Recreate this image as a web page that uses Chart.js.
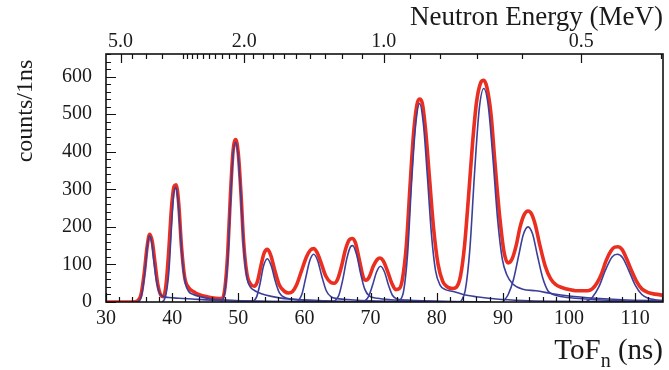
<!DOCTYPE html>
<html>
<head>
<meta charset="utf-8">
<script src="https://cdn.jsdelivr.net/npm/chart.js@4.4.0/dist/chart.umd.min.js"></script>
<style>
  html, body { margin: 0; padding: 0; background: #fff; }
  #c { display: block; }
</style>
</head>
<body>
<canvas id="c" width="669" height="370"></canvas>
<script>
// total fit (red), [ToF ns, counts/1ns]
const totalFit = [
  [30,0],[34,0],[34.8,3],[35.3,20],[35.8,80],[36.2,145],[36.6,180],[37.0,160],[37.4,105],[37.8,50],
  [38.3,18],[38.7,14],[39.1,50],[39.5,140],[39.9,250],[40.3,308],[40.6,312],[41.0,260],[41.4,150],[41.9,65],
  [42.5,38],[43.2,28],[44.0,20],[45.0,15],[46.0,11],[47.0,9],[47.6,10],[48.0,40],[48.4,130],[48.8,280],
  [49.2,400],[49.6,432],[50.0,395],[50.4,290],[50.8,160],[51.3,75],[51.9,47],[52.4,42],[52.9,55],[53.4,95],
  [53.9,130],[54.4,140],[54.9,125],[55.5,85],[56.2,45],[57.0,28],[57.6,24],[58.2,28],[58.8,45],[59.5,80],
  [60.3,120],[60.9,138],[61.4,142],[61.9,132],[62.5,105],[63.2,70],[64.0,52],[64.5,50],[65.0,60],[65.6,95],
  [66.2,140],[66.8,166],[67.2,169],[67.7,158],[68.3,112],[68.9,65],[69.3,58],[69.8,67],[70.4,95],[71.0,113],
  [71.4,117],[71.9,110],[72.5,85],[73.2,50],[73.8,33],[74.3,35],[74.8,60],[75.4,150],[76.0,320],[76.5,450],
  [77.0,525],[77.4,540],[77.8,530],[78.3,460],[78.9,330],[79.5,200],[80.2,100],[80.9,55],[81.6,40],[82.4,36],
  [83.0,40],[83.6,70],[84.2,150],[84.8,280],[85.4,420],[86.0,530],[86.6,582],[87.1,590],[87.6,570],[88.2,500],
  [88.8,370],[89.5,230],[90.2,130],[90.8,104],[91.4,115],[92.0,150],[92.6,200],[93.2,232],[93.8,242],[94.3,235],
  [94.9,205],[95.6,150],[96.4,95],[97.2,62],[98.0,46],[99.0,38],[100.0,33],[101.0,30],[102.0,30],[102.8,30],
  [103.5,35],[104.2,50],[104.9,75],[105.6,110],[106.3,135],[106.9,146],[107.4,147],[108.0,140],[108.7,115],[109.4,85],
  [110.2,55],[111.0,35],[112.0,25],[113.0,21],[114.2,18]
];

// single peak components (blue)
const peak1 = [[34.6,0],[35.2,8],[35.6,40],[36.0,100],[36.3,155],[36.6,176],[36.9,160],[37.2,115],[37.6,60],[38.0,28],[38.5,16],[39.5,12],[41,10],[43,8],[46,5],[50,3],[55,1.5],[62,0.5],[70,0]];
const peak2 = [[38.5,0],[39.0,15],[39.5,80],[39.9,200],[40.2,280],[40.5,305],[40.8,285],[41.2,195],[41.6,100],[42.0,50],[42.5,28],[43.2,20],[44.5,13],[46,8],[48,5],[52,2.5],[58,1],[66,0]];
const peak3 = [[47.4,0],[47.9,20],[48.4,110],[48.8,260],[49.2,390],[49.6,425],[50.0,385],[50.4,280],[50.8,150],[51.3,65],[51.8,40],[52.5,30],[53.5,22],[55,15],[57,9],[60,5],[64,2.5],[70,1],[78,0]];
const peak4 = [[52.2,0],[52.8,15],[53.3,50],[53.8,95],[54.4,115],[55.0,95],[55.6,55],[56.2,25],[57.0,12],[58,8],[60,5],[64,2],[70,0]];
const peak5 = [[58.9,0],[59.6,20],[60.2,65],[60.8,110],[61.4,127],[62.0,110],[62.6,70],[63.3,30],[64.0,14],[65,9],[67,6],[70,3],[75,1],[80,0]];
const peak6 = [[64.4,0],[65.2,18],[65.8,60],[66.4,115],[67.0,148],[67.3,150],[67.9,125],[68.5,75],[69.1,35],[69.8,16],[71,10],[73,6],[76,3],[80,1],[85,0]];
const peak7 = [[69.0,0],[69.7,15],[70.3,45],[70.9,80],[71.5,95],[72.1,80],[72.7,45],[73.3,18],[74.0,8],[75.5,5],[78,3],[82,1],[88,0]];
const peak8 = [[74.3,0],[75.0,30],[75.6,130],[76.2,320],[76.8,470],[77.4,528],[78.0,470],[78.6,330],[79.2,180],[79.8,85],[80.5,45],[81.3,33],[82.5,28],[84,20],[86,14],[89,8],[93,4],[98,2],[105,1],[112,0]];
const peak9 = [[83.6,0],[84.3,30],[85.0,140],[85.7,340],[86.4,510],[87.1,568],[87.8,520],[88.5,380],[89.2,220],[89.9,115],[90.6,72],[91.5,48],[93,34],[95,30],[97.5,22],[100,16],[104,10],[108,6],[114.2,3]];
const peak10 = [[90.0,0],[90.8,20],[91.6,60],[92.4,125],[93.1,180],[93.8,200],[94.5,180],[95.2,125],[96.0,65],[96.8,30],[97.6,20],[99,14],[101,10],[104,6],[108,3],[114.2,1]];
const peak11 = [[102.5,0],[103.5,12],[104.5,40],[105.5,85],[106.5,120],[107.3,127],[108.1,118],[109.0,85],[110.0,45],[111.0,20],[112.0,10],[113,6],[114.2,4]];

const peaks = [peak1, peak2, peak3, peak4, peak5, peak6, peak7, peak8, peak9, peak10, peak11];

// top axis: neutron energy (MeV) at ToF = flightConst / sqrt(E)
const flightConst = 72.0;
const energyLabels = [5.0, 2.0, 1.0, 0.5];
const energyMinor = [4.5, 4.0, 3.5, 3.0, 2.9, 2.8, 2.7, 2.6, 2.5, 2.4, 2.3, 2.2, 2.1,
  1.9, 1.8, 1.7, 1.6, 1.5, 1.4, 1.3, 1.2, 1.1, 0.9, 0.8, 0.7, 0.6, 0.4];

const xMin = 30, xMax = 114.2;
const yMin = 0, yMax = 660;

const serif = '"Liberation Serif", "DejaVu Serif", serif';
const toXY = arr => arr.map(p => ({ x: p[0], y: p[1] }));

const datasets = peaks.map((p, i) => ({
  label: 'peak ' + (i + 1),
  data: toXY(p),
  borderColor: '#3c3f9a',
  borderWidth: 1.6,
  pointRadius: 0,
  cubicInterpolationMode: 'monotone',
  order: 1
}));
datasets.push({
  label: 'total',
  data: toXY(totalFit),
  borderColor: '#ea2e20',
  borderWidth: 3.6,
  pointRadius: 0,
  cubicInterpolationMode: 'monotone',
  order: 2
});

// ROOT style frame, inward ticks and titles
const frameAndTitles = {
  id: 'frameAndTitles',
  afterDraw(chart) {
    const { ctx, chartArea: a, scales } = chart;
    const x = scales.x, y = scales.y;
    ctx.save();
    ctx.strokeStyle = '#111';
    ctx.lineWidth = 1.2;
    ctx.beginPath();
    for (let t = 30; t <= xMax; t += 2) {
      const px = Math.round(x.getPixelForValue(t)) + 0.5;
      const len = t % 10 === 0 ? 9 : 5;
      ctx.moveTo(px, a.bottom);
      ctx.lineTo(px, a.bottom - len);
    }
    for (let v = 0; v <= yMax; v += 20) {
      const py = Math.round(y.getPixelForValue(v)) + 0.5;
      const len = v % 100 === 0 ? 10 : 5;
      ctx.moveTo(a.left, py);
      ctx.lineTo(a.left + len, py);
    }
    energyLabels.forEach(e => {
      const px = Math.round(x.getPixelForValue(flightConst / Math.sqrt(e))) + 0.5;
      ctx.moveTo(px, a.top);
      ctx.lineTo(px, a.top + 9);
    });
    energyMinor.forEach(e => {
      const px = Math.round(x.getPixelForValue(flightConst / Math.sqrt(e))) + 0.5;
      ctx.moveTo(px, a.top);
      ctx.lineTo(px, a.top + 5);
    });
    ctx.stroke();

    ctx.lineWidth = 1.6;
    ctx.strokeRect(a.left, a.top, a.right - a.left, a.bottom - a.top);

    ctx.fillStyle = '#1a1a1a';
    ctx.textBaseline = 'alphabetic';
    ctx.textAlign = 'right';
    ctx.font = '27px ' + serif;
    ctx.fillText('Neutron Energy (MeV)', a.right, 25);

    // ToF_n (ns)
    const base = 359;
    ctx.font = '29px ' + serif;
    const w1 = ctx.measureText(' (ns)').width;
    ctx.fillText(' (ns)', a.right, base);
    ctx.font = '20px ' + serif;
    const w2 = ctx.measureText('n').width;
    ctx.fillText('n', a.right - w1, base + 8);
    ctx.font = '29px ' + serif;
    ctx.fillText('ToF', a.right - w1 - w2, base);

    ctx.translate(26, 111);
    ctx.rotate(-Math.PI / 2);
    ctx.textAlign = 'center';
    ctx.textBaseline = 'middle';
    ctx.font = '24px ' + serif;
    ctx.fillText('counts/1ns', 0, 0);
    ctx.restore();
  }
};

new Chart(document.getElementById('c'), {
  type: 'line',
  data: { datasets: datasets },
  options: {
    responsive: false,
    devicePixelRatio: 1,
    animation: false,
    layout: { padding: { left: 0, right: 6, top: 0, bottom: 0 } },
    plugins: { legend: { display: false }, tooltip: { enabled: false } },
    scales: {
      x: {
        type: 'linear',
        position: 'bottom',
        min: xMin,
        max: xMax,
        grid: { display: false, drawTicks: false },
        border: { display: false },
        ticks: {
          stepSize: 10,
          includeBounds: false,
          autoSkip: false,
          maxRotation: 0,
          padding: 5,
          color: '#1a1a1a',
          font: { family: serif, size: 20 },
          callback: v => (v % 10 === 0 ? String(v) : '')
        },
        afterFit: s => { s.height = 68; }
      },
      x2: {
        type: 'linear',
        position: 'top',
        min: xMin,
        max: xMax,
        grid: { display: false, drawTicks: false },
        border: { display: false },
        afterBuildTicks: s => {
          s.ticks = energyLabels.map(e => ({ value: flightConst / Math.sqrt(e) }));
        },
        ticks: {
          autoSkip: false,
          maxRotation: 0,
          padding: 0,
          color: '#1a1a1a',
          font: { family: serif, size: 20 },
          callback: (v, i) => energyLabels[i].toFixed(1)
        },
        afterFit: s => { s.height = 54; }
      },
      y: {
        type: 'linear',
        min: yMin,
        max: yMax,
        grid: { display: false, drawTicks: false },
        border: { display: false },
        ticks: {
          stepSize: 100,
          includeBounds: false,
          padding: 14,
          color: '#1a1a1a',
          font: { family: serif, size: 20 },
          callback: v => (v % 100 === 0 ? String(v) : '')
        },
        afterFit: s => { s.width = 106; }
      }
    }
  },
  plugins: [frameAndTitles]
});
</script>
</body>
</html>
